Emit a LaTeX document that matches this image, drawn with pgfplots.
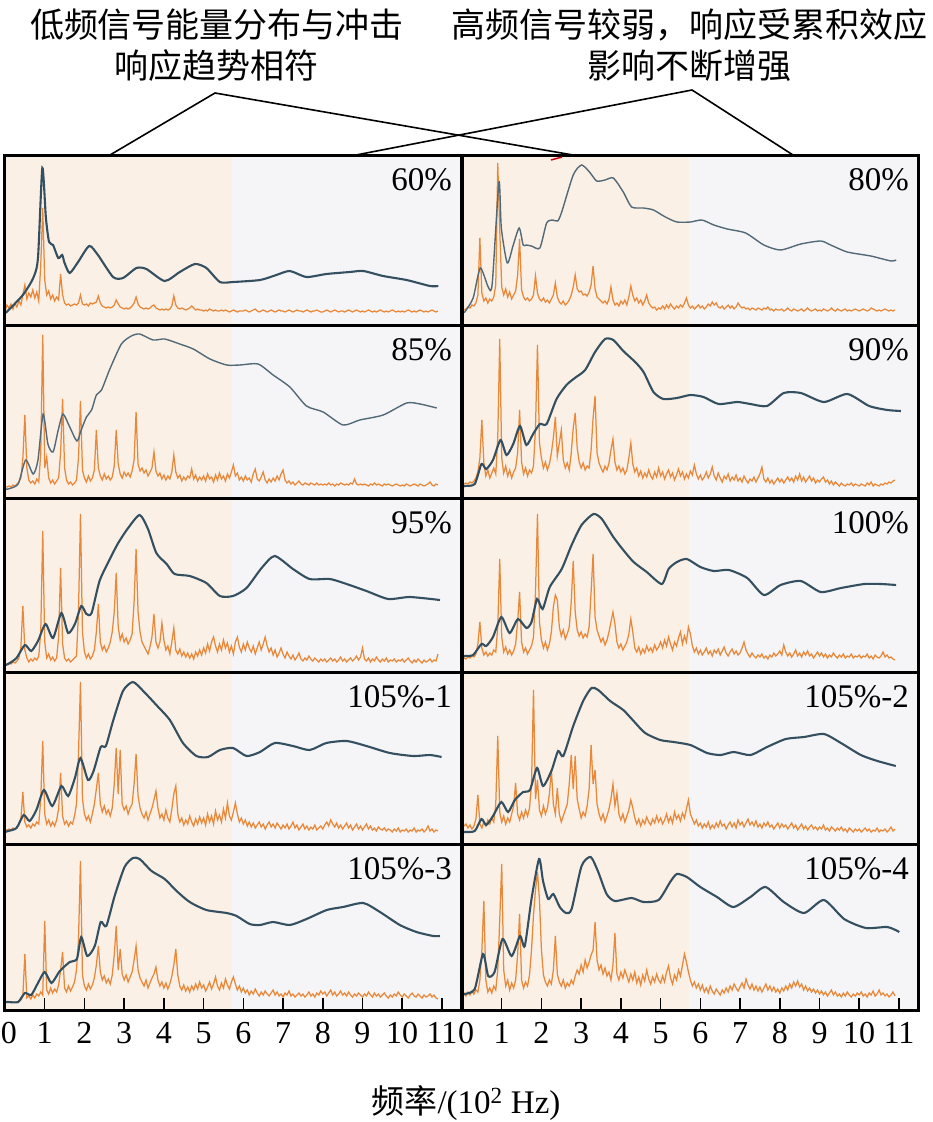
\documentclass[border=0pt]{standalone}
\usepackage{pgfplots}
\pgfplotsset{compat=1.18}
\usepackage{fontspec}
\setmainfont{Liberation Serif}
\newfontfamily\cjk{Noto Sans CJK SC}
\definecolor{obg}{RGB}{250,240,230}
\definecolor{gbg}{RGB}{245,245,247}
\definecolor{oline}{RGB}{232,136,58}
\definecolor{bline}{RGB}{52,80,96}
\pgfplotsset{
  panel/.style={scale only axis, width=456pt, xmin=0, xmax=11.48, ymin=0,
    axis line style={line width=3pt}, xtick=\empty, ytick=\empty, axis on top, anchor=north west},
  bot/.style={xtick={0,...,11},
    xtick pos=bottom, tick align=inside, major tick length=12pt, tick style={line width=1.5pt, black},
    xticklabel style={font=\fontsize{32}{32}\selectfont, inner sep=0pt, yshift=-12pt}},
  or/.style={oline, line width=1.25pt},
  bl/.style={bline, line width=2.1pt, smooth, tension=0.4},
}
\newcommand{\bg}[1]{\fill[obg] (axis cs:0,0) rectangle (axis cs:5.72,#1); \fill[gbg] (axis cs:5.72,0) rectangle (axis cs:11.48,#1);}
\newcommand{\lab}[1]{\node[anchor=north east, inner sep=0pt, font=\fontsize{33}{33}\selectfont, xshift=-9pt, yshift=-13pt] at (rel axis cs:1,1) {#1};}
\begin{document}
\begin{tikzpicture}
\path[use as bounding box] (0,0) rectangle (933pt,-1122pt);
\node[font=\cjk\fontsize{34}{41}\selectfont, align=center] at (217pt,-45pt) {低频信号能量分布与冲击\\响应趋势相符};
\node[font=\cjk\fontsize{34}{41}\selectfont, align=center] at (689pt,-45pt) {高频信号较弱，响应受累积效应\\影响不断增强};
\draw[line width=1.6pt] (110pt,-155pt) -- (215pt,-93pt) -- (573pt,-155pt);
\draw[line width=1.6pt] (356pt,-155pt) -- (692pt,-90pt) -- (793pt,-155pt);
\node[font=\fontsize{33}{33}\selectfont, anchor=base] at (466pt,-1113pt) {{\cjk 频率}/(10\textsuperscript{2} Hz)};

% ---------- 60% ----------
\begin{axis}[panel, at={(5pt,-155pt)}, height=170pt, ymax=170]
\bg{170}
\addplot[or] table[header=false,row sep=\\,x expr=\coordindex*0.05,y index=0]{
14\\20\\17\\21\\16\\22\\18\\24\\20\\30\\40\\26\\32\\28\\35\\27\\33\\24\\60\\117\\
45\\30\\34\\26\\30\\24\\28\\25\\51\\30\\22\\20\\21\\19\\20\\21\\20\\22\\30\\21\\
20\\21\\19\\22\\21\\22\\23\\29\\22\\19\\18\\17\\18\\17\\18\\20\\25\\21\\18\\17\\
16\\17\\16\\17\\19\\22\\28\\21\\18\\17\\16\\17\\16\\17\\19\\20\\17\\16\\15\\16\\
15\\16\\15\\16\\19\\29\\20\\17\\16\\17\\16\\15\\16\\17\\19\\17\\15\\16\\15\\15\\
14\\15\\14\\16\\15\\14\\15\\14\\14\\15\\14\\15\\14\\13\\14\\15\\14\\13\\14\\14\\
14\\15\\14\\13\\14\\15\\16\\14\\13\\14\\15\\14\\13\\14\\15\\14\\13\\14\\15\\14\\
14\\13\\14\\15\\14\\13\\14\\15\\14\\14\\13\\14\\15\\14\\13\\14\\14\\15\\14\\13\\
13\\14\\15\\14\\13\\14\\15\\14\\13\\14\\14\\13\\14\\15\\14\\13\\14\\15\\14\\13\\
14\\13\\14\\15\\14\\13\\14\\13\\14\\15\\14\\13\\14\\13\\14\\15\\14\\13\\14\\13\\
14\\13\\14\\15\\14\\13\\14\\13\\14\\15\\14\\13\\14\\13\\14\\15\\14\\13\\14\\};
\addplot[bl] coordinates {(0,12)(0.04,13)(0.45,30)(0.71,47)(0.83,67)(0.94,157)(1.03,107)(1.11,83)(1.21,80)(1.34,67)(1.44,70)(1.50,62)(1.63,52)(1.84,63)(2.12,79)(2.34,70)(2.72,48)(2.97,47)(3.31,57)(3.56,56)(4.02,44)(4.40,53)(4.78,61)(5.07,57)(5.41,43)(5.74,43)(6.42,45)(6.83,50)(7.17,54)(7.59,48)(8.09,51)(8.68,53)(9.02,54)(9.52,49)(10.11,45)(10.70,39)(10.91,39)};
\lab{60\%}
\end{axis}

% ---------- 80% ----------
\begin{axis}[panel, at={(462pt,-155pt)}, height=170pt, ymax=170]
\bg{170}
\addplot[or] table[header=false,row sep=\\,x expr=\coordindex*0.05,y index=0]{
14\\15\\16\\18\\17\\20\\19\\22\\30\\87\\32\\24\\27\\22\\26\\24\\28\\40\\162\\95\\
38\\30\\36\\28\\33\\26\\30\\34\\50\\86\\35\\28\\25\\27\\24\\26\\30\\49\\32\\26\\
24\\27\\23\\25\\22\\26\\30\\42\\28\\23\\21\\24\\20\\22\\25\\30\\38\\50\\36\\33\\
34\\30\\31\\29\\33\\40\\59\\36\\28\\26\\24\\22\\24\\21\\26\\38\\25\\20\\22\\19\\
24\\21\\25\\20\\28\\39\\30\\24\\27\\22\\25\\20\\24\\30\\22\\19\\17\\18\\15\\17\\
16\\19\\16\\20\\17\\21\\18\\16\\19\\17\\20\\18\\22\\27\\20\\17\\19\\16\\18\\20\\
17\\19\\16\\18\\21\\19\\23\\20\\22\\18\\17\\19\\16\\18\\20\\17\\19\\16\\18\\22\\
19\\17\\18\\16\\17\\15\\17\\16\\15\\17\\16\\15\\17\\16\\18\\15\\16\\14\\16\\15\\
15\\16\\14\\15\\17\\15\\14\\16\\15\\14\\15\\16\\14\\15\\17\\15\\14\\15\\16\\14\\
15\\14\\16\\15\\14\\15\\17\\15\\14\\16\\15\\14\\15\\16\\14\\15\\14\\15\\16\\15\\
14\\15\\16\\15\\14\\15\\17\\16\\15\\14\\15\\14\\15\\16\\15\\14\\15\\14\\15\\};
\addplot[bl, line width=1.4pt, bline!85!white] coordinates {(0,12)(0.07,13)(0.28,27)(0.46,57)(0.66,38)(0.76,41)(0.93,143)(0.99,97)(1.14,62)(1.29,80)(1.44,97)(1.54,80)(1.62,80)(1.75,79)(1.96,77)(2.13,102)(2.28,105)(2.41,104)(2.51,113)(2.80,150)(3.01,160)(3.21,153)(3.39,144)(3.60,145)(3.81,147)(4.06,133)(4.27,118)(4.57,117)(4.82,115)(5.12,108)(5.41,103)(5.75,103)(6.04,105)(6.34,100)(6.68,96)(7.14,92)(7.60,80)(8.02,75)(8.53,81)(9.03,84)(9.28,80)(9.70,73)(10.29,69)(10.80,64)(10.93,65)};
\lab{80\%}
\end{axis}

% ---------- 85% ----------
\begin{axis}[panel, at={(5pt,-325pt)}, height=173pt, ymax=173]
\bg{173}
\addplot[or] table[header=false,row sep=\\,x expr=\coordindex*0.05,y index=0]{
11\\11\\12\\11\\13\\12\\14\\16\\20\\40\\83\\30\\18\\15\\17\\14\\19\\16\\45\\163\\
30\\41\\20\\15\\18\\14\\17\\20\\45\\99\\30\\18\\14\\16\\13\\15\\18\\40\\97\\28\\
20\\16\\22\\17\\20\\28\\68\\30\\22\\18\\24\\19\\22\\18\\21\\32\\68\\34\\24\\20\\
26\\22\\25\\21\\27\\38\\86\\34\\27\\30\\25\\28\\22\\26\\30\\46\\27\\22\\25\\19\\
23\\18\\22\\19\\26\\43\\26\\20\\23\\17\\21\\18\\22\\20\\29\\19\\23\\17\\21\\18\\
22\\17\\24\\19\\21\\16\\23\\18\\25\\19\\22\\17\\24\\20\\26\\33\\22\\25\\18\\21\\
17\\22\\18\\20\\16\\24\\29\\19\\17\\21\\26\\18\\15\\19\\16\\20\\17\\22\\18\\24\\
28\\18\\15\\17\\14\\16\\13\\15\\17\\14\\13\\15\\14\\13\\15\\14\\13\\15\\13\\14\\
13\\14\\13\\15\\13\\14\\12\\14\\13\\15\\14\\13\\14\\13\\15\\14\\19\\14\\13\\14\\
13\\14\\13\\12\\14\\13\\15\\13\\14\\13\\12\\14\\13\\14\\13\\12\\13\\14\\13\\12\\
13\\12\\14\\13\\12\\13\\14\\13\\12\\14\\13\\12\\13\\14\\16\\13\\12\\14\\13\\};
\addplot[bl, line width=1.4pt, bline!85!white] coordinates {(0,9)(0.08,9)(0.33,14)(0.52,38)(0.71,24)(0.83,38)(0.96,84)(1.08,54)(1.21,46)(1.34,68)(1.46,84)(1.63,71)(1.81,57)(1.92,68)(2.05,81)(2.18,88)(2.30,103)(2.43,108)(2.64,129)(2.93,154)(3.18,162)(3.39,164)(3.73,158)(4.02,159)(4.40,154)(4.74,149)(5.16,139)(5.58,133)(5.91,133)(6.37,134)(6.75,123)(7.17,111)(7.59,92)(8.01,86)(8.51,73)(8.93,78)(9.52,83)(10.11,95)(10.45,94)(10.87,90)};
\lab{85\%}
\end{axis}

% ---------- 90% ----------
\begin{axis}[panel, at={(462pt,-325pt)}, height=173pt, ymax=173]
\bg{173}
\addplot[or] table[header=false,row sep=\\,x expr=\coordindex*0.05,y index=0]{
14\\14\\15\\14\\16\\15\\17\\20\\26\\40\\78\\35\\22\\28\\20\\25\\30\\24\\60\\159\\
40\\25\\32\\22\\28\\20\\26\\30\\45\\88\\36\\24\\30\\22\\28\\25\\32\\70\\153\\55\\
40\\30\\36\\28\\34\\45\\60\\81\\42\\55\\68\\38\\30\\35\\28\\45\\70\\85\\50\\36\\
30\\35\\28\\32\\30\\48\\80\\102\\45\\35\\30\\26\\32\\28\\35\\48\\59\\36\\28\\32\\
26\\30\\24\\28\\40\\55\\34\\26\\30\\22\\27\\20\\25\\21\\28\\22\\19\\26\\21\\30\\
22\\26\\19\\24\\28\\21\\25\\18\\23\\29\\22\\26\\19\\24\\20\\27\\23\\33\\24\\19\\
23\\18\\21\\26\\20\\24\\31\\22\\18\\25\\20\\16\\22\\19\\24\\17\\21\\18\\23\\17\\
20\\16\\22\\18\\15\\19\\17\\21\\16\\20\\24\\31\\19\\16\\20\\15\\18\\14\\17\\20\\
16\\19\\15\\18\\21\\17\\20\\16\\22\\18\\24\\17\\21\\16\\19\\22\\17\\20\\15\\18\\
16\\19\\21\\16\\18\\14\\17\\13\\16\\14\\12\\15\\13\\12\\14\\13\\15\\12\\14\\13\\
12\\14\\13\\12\\15\\13\\16\\12\\14\\13\\12\\14\\13\\15\\14\\16\\15\\17\\18\\};
\addplot[bl] coordinates {(0,11)(0.07,12)(0.32,14)(0.49,34)(0.61,29)(0.78,38)(0.97,58)(1.12,43)(1.29,54)(1.46,72)(1.62,53)(1.79,64)(1.96,74)(2.13,74)(2.38,99)(2.63,113)(2.84,120)(3.10,128)(3.35,146)(3.60,159)(3.81,158)(4.06,147)(4.36,136)(4.57,126)(4.82,106)(5.07,99)(5.41,100)(5.75,103)(6.08,101)(6.46,94)(6.93,96)(7.26,94)(7.68,92)(8.10,105)(8.53,105)(9.11,96)(9.70,104)(10.25,92)(10.71,88)(11.05,87)};
\lab{90\%}
\end{axis}

% ---------- 95% ----------
\begin{axis}[panel, at={(5pt,-498pt)}, height=174pt, ymax=174]
\bg{174}
\addplot[or] table[header=false,row sep=\\,x expr=\coordindex*0.05,y index=0]{
8\\8\\9\\8\\10\\9\\11\\14\\25\\66\\22\\14\\10\\13\\11\\14\\12\\16\\40\\141\\
30\\14\\18\\12\\15\\11\\14\\35\\104\\28\\14\\11\\13\\10\\12\\14\\16\\60\\158\\40\\
20\\14\\18\\13\\16\\22\\40\\68\\30\\22\\26\\20\\24\\30\\40\\60\\99\\45\\32\\38\\
30\\34\\28\\32\\38\\70\\123\\60\\40\\30\\26\\22\\18\\25\\35\\58\\30\\24\\30\\49\\
32\\22\\26\\18\\30\\44\\22\\18\\23\\16\\20\\15\\19\\14\\18\\13\\20\\16\\22\\17\\
24\\19\\28\\21\\30\\35\\26\\20\\28\\22\\32\\24\\29\\20\\26\\18\\30\\35\\25\\20\\
28\\22\\30\\24\\20\\26\\18\\24\\30\\22\\28\\35\\26\\20\\24\\17\\22\\15\\19\\24\\
18\\14\\20\\16\\13\\17\\12\\15\\19\\13\\11\\14\\12\\16\\13\\11\\14\\12\\10\\13\\
11\\13\\10\\12\\14\\11\\13\\10\\12\\15\\11\\13\\10\\12\\14\\11\\13\\16\\12\\15\\
24\\13\\11\\14\\10\\13\\11\\15\\12\\10\\13\\11\\14\\10\\12\\11\\13\\10\\12\\11\\
13\\10\\12\\14\\11\\9\\12\\10\\13\\11\\9\\12\\10\\11\\13\\10\\12\\11\\18\\};
\addplot[bl] coordinates {(0,7)(0.08,8)(0.29,14)(0.50,27)(0.66,21)(0.83,31)(1.02,48)(1.21,34)(1.42,59)(1.59,39)(1.76,48)(1.92,66)(2.05,58)(2.18,59)(2.38,91)(2.64,113)(2.85,129)(3.10,144)(3.39,157)(3.60,143)(3.81,119)(4.07,108)(4.27,98)(4.65,96)(5.07,89)(5.41,76)(5.74,76)(6.08,84)(6.46,104)(6.79,116)(7.25,103)(7.67,93)(8.18,93)(8.60,88)(9.10,81)(9.65,73)(10.19,75)(10.95,72)};
\lab{95\%}
\end{axis}

% ---------- 100% ----------
\begin{axis}[panel, at={(462pt,-498pt)}, height=174pt, ymax=174]
\bg{174}
\addplot[or] table[header=false,row sep=\\,x expr=\coordindex*0.05,y index=0]{
13\\14\\13\\15\\14\\16\\15\\18\\28\\50\\24\\17\\20\\16\\19\\17\\22\\20\\45\\113\\
35\\20\\25\\18\\22\\17\\21\\28\\50\\80\\30\\20\\24\\18\\22\\26\\35\\80\\158\\50\\
32\\24\\30\\22\\28\\40\\65\\77\\72\\45\\36\\42\\33\\38\\45\\70\\111\\60\\42\\36\\
40\\34\\38\\35\\45\\80\\118\\55\\42\\36\\30\\34\\27\\32\\40\\50\\60\\48\\30\\24\\
28\\22\\26\\30\\38\\53\\40\\24\\20\\25\\18\\23\\19\\26\\21\\24\\20\\27\\22\\25\\
30\\24\\32\\26\\35\\28\\22\\30\\26\\34\\40\\28\\36\\30\\45\\38\\26\\20\\24\\18\\
22\\17\\20\\24\\18\\21\\16\\22\\19\\23\\17\\21\\25\\19\\16\\20\\23\\18\\21\\17\\
19\\24\\30\\22\\18\\15\\19\\16\\14\\17\\15\\18\\14\\16\\13\\17\\15\\19\\16\\18\\
21\\17\\27\\20\\16\\19\\15\\18\\22\\16\\19\\15\\20\\17\\21\\16\\18\\14\\17\\20\\
16\\19\\15\\18\\14\\17\\15\\19\\16\\14\\17\\15\\18\\14\\16\\15\\18\\14\\16\\15\\
17\\14\\16\\15\\18\\14\\16\\13\\17\\15\\14\\16\\20\\15\\17\\14\\15\\13\\12\\};
\addplot[bl] coordinates {(0,15)(0.07,16)(0.28,17)(0.49,28)(0.61,26)(0.78,35)(0.99,55)(1.20,39)(1.41,53)(1.62,44)(1.75,50)(1.89,73)(2.03,63)(2.21,85)(2.51,103)(2.76,127)(3.01,147)(3.31,158)(3.52,153)(3.81,135)(4.06,122)(4.32,110)(4.65,100)(5.03,88)(5.20,103)(5.41,110)(5.66,113)(6.00,105)(6.34,101)(6.72,102)(7.18,94)(7.60,77)(8.02,87)(8.53,91)(9.03,80)(9.54,84)(10.13,88)(10.55,88)(10.93,87)};
\lab{100\%}
\end{axis}

% ---------- 105%-1 ----------
\begin{axis}[panel, at={(5pt,-672pt)}, height=172pt, ymax=172]
\bg{172}
\addplot[or] table[header=false,row sep=\\,x expr=\coordindex*0.05,y index=0]{
14\\14\\15\\14\\16\\15\\17\\19\\25\\52\\22\\17\\19\\16\\20\\18\\22\\20\\45\\103\\
30\\20\\24\\18\\22\\18\\24\\35\\71\\28\\20\\23\\18\\22\\20\\28\\40\\90\\162\\45\\
30\\24\\28\\22\\30\\40\\55\\71\\40\\32\\38\\30\\34\\28\\36\\60\\96\\50\\94\\40\\
34\\38\\30\\36\\40\\60\\90\\48\\36\\30\\26\\32\\24\\30\\36\\44\\53\\36\\26\\30\\
24\\34\\26\\22\\35\\50\\58\\30\\22\\26\\19\\24\\20\\28\\22\\18\\25\\20\\27\\21\\
26\\19\\30\\22\\28\\20\\33\\24\\29\\22\\35\\26\\41\\28\\24\\32\\41\\30\\22\\26\\
20\\24\\18\\22\\17\\21\\16\\19\\22\\17\\20\\15\\19\\22\\17\\20\\16\\21\\18\\15\\
19\\16\\20\\15\\18\\22\\16\\19\\14\\17\\20\\15\\18\\14\\17\\15\\19\\14\\16\\18\\
15\\19\\22\\18\\24\\20\\17\\21\\16\\19\\15\\18\\21\\16\\19\\14\\17\\20\\15\\18\\
14\\17\\20\\15\\18\\14\\16\\13\\17\\15\\14\\16\\13\\15\\14\\12\\15\\13\\16\\12\\
14\\13\\15\\12\\14\\13\\16\\12\\14\\13\\15\\12\\14\\18\\13\\15\\12\\14\\13\\};
\addplot[bl] coordinates {(0,12)(0.08,13)(0.29,16)(0.47,29)(0.62,23)(0.79,34)(0.98,54)(1.19,38)(1.42,58)(1.59,48)(1.76,66)(1.90,86)(2.09,64)(2.23,73)(2.41,97)(2.54,98)(2.72,123)(2.97,153)(3.22,162)(3.48,153)(3.81,139)(4.15,124)(4.48,101)(4.82,88)(5.11,87)(5.41,94)(5.74,96)(6.08,88)(6.42,92)(6.79,101)(7.25,98)(7.67,94)(8.09,101)(8.60,103)(9.10,98)(9.69,91)(10.28,88)(10.70,89)(10.99,87)};
\lab{105\%-1}
\end{axis}

% ---------- 105%-2 ----------
\begin{axis}[panel, at={(462pt,-672pt)}, height=172pt, ymax=172]
\bg{172}
\addplot[or] table[header=false,row sep=\\,x expr=\coordindex*0.05,y index=0]{
22\\18\\20\\16\\19\\15\\18\\25\\49\\20\\16\\22\\18\\24\\20\\26\\22\\40\\108\\32\\
22\\28\\20\\26\\22\\30\\38\\61\\30\\24\\32\\26\\34\\28\\36\\60\\154\\45\\64\\34\\
28\\38\\30\\36\\50\\74\\40\\30\\56\\30\\22\\28\\34\\40\\60\\89\\55\\88\\45\\35\\
26\\32\\28\\38\\55\\99\\60\\74\\40\\30\\24\\30\\22\\28\\35\\45\\60\\38\\51\\30\\
24\\30\\22\\28\\34\\44\\36\\26\\20\\25\\18\\24\\20\\27\\22\\19\\25\\21\\28\\22\\
26\\20\\24\\30\\22\\27\\21\\32\\25\\29\\23\\31\\26\\35\\44\\30\\25\\20\\24\\18\\
21\\16\\20\\17\\22\\15\\19\\16\\21\\17\\23\\18\\20\\15\\19\\22\\17\\21\\16\\24\\
19\\22\\17\\21\\25\\19\\22\\18\\23\\17\\20\\16\\21\\18\\22\\17\\19\\15\\18\\21\\
16\\20\\17\\19\\15\\18\\21\\16\\19\\14\\17\\20\\15\\18\\14\\17\\19\\15\\17\\14\\
17\\15\\19\\14\\16\\13\\17\\15\\13\\16\\14\\17\\13\\15\\12\\16\\14\\12\\15\\13\\
15\\12\\14\\16\\13\\15\\12\\14\\13\\16\\12\\14\\13\\15\\12\\14\\17\\13\\15\\};
\addplot[bl] coordinates {(0,12)(0.07,12)(0.32,13)(0.49,25)(0.61,19)(0.78,28)(0.99,42)(1.16,32)(1.33,44)(1.54,52)(1.71,54)(1.89,76)(2.04,58)(2.25,73)(2.42,93)(2.55,88)(2.80,118)(3.05,143)(3.26,156)(3.43,154)(3.73,143)(4.06,134)(4.32,123)(4.61,111)(4.99,104)(5.33,102)(5.75,99)(6.17,91)(6.51,89)(6.84,92)(7.26,89)(7.68,97)(8.15,105)(8.61,107)(9.11,110)(9.54,101)(10.04,89)(10.46,83)(10.92,78)};
\lab{105\%-2}
\end{axis}

% ---------- 105%-3 ----------
\begin{axis}[panel, bot, at={(5pt,-844pt)}, height=166pt, ymax=166,
  xticklabels={\hspace*{8pt}0,1,2,3,4,5,6,7,8,9,10,11}]
\bg{166}
\addplot[or] table[header=false,row sep=\\,x expr=\coordindex*0.05,y index=0]{
8\\8\\8\\8\\8\\8\\8\\9\\10\\14\\56\\12\\14\\11\\15\\12\\16\\14\\18\\15\\
89\\20\\16\\22\\17\\21\\18\\25\\40\\58\\22\\18\\24\\19\\23\\28\\40\\70\\149\\35\\
24\\20\\26\\21\\25\\32\\45\\64\\38\\30\\34\\27\\31\\26\\35\\55\\84\\40\\61\\36\\
30\\35\\28\\33\\38\\50\\64\\40\\32\\28\\24\\30\\22\\27\\32\\36\\43\\30\\24\\28\\
22\\27\\21\\26\\34\\45\\61\\35\\24\\20\\25\\19\\23\\18\\24\\20\\26\\21\\28\\22\\
25\\19\\23\\28\\21\\26\\33\\24\\20\\27\\22\\31\\25\\21\\28\\33\\26\\20\\24\\18\\
22\\17\\20\\15\\19\\16\\21\\17\\14\\18\\15\\19\\16\\14\\17\\20\\15\\18\\14\\16\\
13\\17\\15\\19\\14\\16\\13\\15\\17\\14\\16\\13\\15\\18\\14\\16\\13\\17\\15\\19\\
16\\18\\14\\17\\20\\15\\18\\14\\16\\19\\15\\17\\14\\18\\15\\13\\16\\14\\17\\15\\
13\\16\\14\\18\\15\\13\\17\\14\\16\\13\\15\\17\\14\\12\\15\\13\\16\\14\\18\\15\\
13\\16\\14\\12\\15\\17\\14\\13\\16\\14\\12\\15\\13\\14\\16\\13\\15\\12\\11\\};
\addplot[bl] coordinates {(0,8)(0.08,8)(0.33,8)(0.50,17)(0.66,15)(0.83,27)(1.00,38)(1.17,27)(1.38,39)(1.63,48)(1.81,51)(1.92,73)(2.07,54)(2.26,64)(2.41,88)(2.55,84)(2.76,114)(3.01,143)(3.22,152)(3.39,151)(3.69,139)(4.02,131)(4.32,119)(4.65,108)(5.07,100)(5.58,97)(5.83,94)(6.16,86)(6.42,85)(6.75,88)(7.17,85)(7.59,91)(8.10,100)(8.51,103)(9.02,107)(9.44,98)(9.94,85)(10.36,78)(10.78,74)(10.95,74)};
\lab{105\%-3}
\end{axis}

% ---------- 105%-4 ----------
\begin{axis}[panel, bot, at={(462pt,-844pt)}, height=166pt, ymax=166,
  xticklabels={\hspace*{8pt}0,1,2,3,4,5,6,7,8,9,10,11}]
\bg{166}
\addplot[or] table[header=false,row sep=\\,x expr=\coordindex*0.05,y index=0]{
15\\17\\14\\18\\15\\19\\16\\20\\18\\30\\60\\109\\30\\18\\22\\17\\24\\20\\40\\90\\
146\\40\\24\\30\\20\\27\\22\\30\\55\\96\\30\\22\\28\\24\\35\\60\\95\\120\\138\\110\\
60\\35\\28\\24\\30\\26\\40\\74\\36\\28\\24\\30\\22\\27\\24\\30\\26\\34\\40\\36\\
45\\38\\50\\42\\48\\55\\60\\88\\50\\40\\45\\36\\42\\34\\38\\30\\45\\77\\36\\30\\
38\\32\\40\\34\\28\\36\\30\\38\\27\\33\\25\\35\\29\\40\\31\\26\\33\\28\\36\\30\\
27\\34\\28\\38\\44\\32\\26\\35\\30\\40\\34\\45\\56\\48\\38\\30\\24\\28\\22\\26\\
20\\25\\18\\22\\17\\24\\19\\16\\21\\18\\15\\20\\17\\22\\18\\24\\20\\26\\22\\19\\
23\\27\\22\\31\\25\\21\\26\\20\\24\\19\\23\\18\\22\\26\\20\\24\\19\\23\\18\\21\\
17\\22\\19\\24\\20\\26\\22\\28\\24\\29\\23\\26\\20\\24\\19\\22\\18\\21\\17\\20\\
16\\19\\15\\18\\14\\17\\20\\15\\18\\14\\16\\13\\17\\14\\18\\15\\13\\16\\14\\17\\
15\\18\\14\\16\\13\\17\\15\\19\\14\\16\\20\\15\\17\\14\\16\\13\\15\\18\\14\\};
\addplot[bl] coordinates {(0,15)(0.07,16)(0.32,21)(0.53,56)(0.66,34)(0.82,38)(1.02,71)(1.25,54)(1.46,74)(1.58,64)(1.75,111)(1.94,151)(2.04,129)(2.17,111)(2.30,116)(2.46,103)(2.62,97)(2.76,101)(3.01,144)(3.24,153)(3.43,138)(3.64,116)(3.85,109)(4.27,112)(4.57,108)(4.95,110)(5.24,128)(5.41,136)(5.66,133)(6.00,123)(6.42,113)(6.83,103)(7.26,113)(7.64,123)(8.10,108)(8.61,97)(9.11,110)(9.62,91)(10.17,82)(10.71,83)(11.01,78)};
\lab{105\%-4}
\end{axis}
\draw[red!80!black, line width=1.5pt] (551pt,-160pt) -- (562pt,-157pt);
\end{tikzpicture}
\end{document}
